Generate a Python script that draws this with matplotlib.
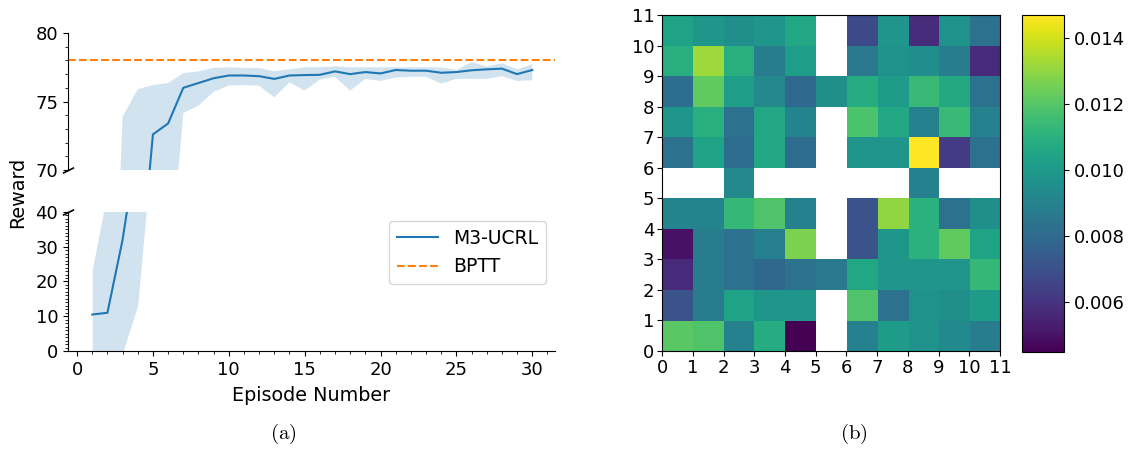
import numpy as np
import matplotlib
matplotlib.use('Agg')
import matplotlib.pyplot as plt
from matplotlib.ticker import MultipleLocator

# reward curve (mean and band) per episode
episodes = list(range(1, 31))
reward_mean = [10.5, 11.0, 32.0, 60.5, 72.6, 73.4, 76.0, 76.35, 76.7, 76.9,
               76.9, 76.85, 76.65, 76.9, 76.93, 76.95, 77.2, 77.0, 77.15, 77.05,
               77.3, 77.25, 77.25, 77.1, 77.15, 77.28, 77.35, 77.4, 77.0, 77.3]
reward_low = [-3.0, -5.0, -0.5, 13.2, 62.0, 61.2, 74.15, 74.7, 75.7, 76.17,
              76.2, 76.15, 75.3, 76.4, 75.8, 76.6, 76.8, 75.8, 76.65, 76.5,
              76.75, 76.8, 76.8, 76.3, 76.65, 76.65, 76.65, 76.85, 76.5, 76.55]
reward_high = [23.4, 45.8, 73.9, 75.9, 76.2, 76.35, 77.07, 77.2, 77.45, 77.5,
               77.45, 77.45, 77.2, 77.35, 77.5, 77.5, 77.56, 77.5, 77.5, 77.5,
               77.5, 77.5, 77.5, 77.5, 77.3, 77.88, 77.55, 77.8, 77.35, 77.73]
bptt_reward = 78.05

# heatmap values, row 0 is the bottom row (nan = empty cell)
nan = np.nan
row0 = [0.0121, 0.0119, 0.0090, 0.0108, 0.0045, nan, 0.0090, 0.0101, 0.0097, 0.0094, 0.0088]
row1 = [0.0071, 0.0088, 0.0104, 0.0099, 0.0099, nan, 0.0119, 0.0083, 0.0097, 0.0096, 0.0101]
row2 = [0.0057, 0.0088, 0.0083, 0.0079, 0.0083, 0.0086, 0.0106, 0.0099, 0.0099, 0.0098, 0.0113]
row3 = [0.0050, 0.0088, 0.0083, 0.0089, 0.0127, nan, 0.0071, 0.0099, 0.0110, 0.0122, 0.0104]
row4 = [0.0091, 0.0091, 0.0113, 0.0119, 0.0090, nan, 0.0071, 0.0130, 0.0110, 0.0083, 0.0096]
row5 = [nan, nan, 0.0093, nan, nan, nan, nan, nan, 0.0090, nan, nan]
row6 = [0.0083, 0.0104, 0.0081, 0.0106, 0.0081, nan, 0.0098, 0.0098, 0.0147, 0.0063, 0.0083]
row7 = [0.0099, 0.0109, 0.0083, 0.0106, 0.0091, nan, 0.0118, 0.0106, 0.0090, 0.0114, 0.0090]
row8 = [0.0082, 0.0122, 0.0102, 0.0093, 0.0080, 0.0096, 0.0108, 0.0101, 0.0114, 0.0107, 0.0083]
row9 = [0.0109, 0.0132, 0.0109, 0.0088, 0.0102, nan, 0.0086, 0.0097, 0.0095, 0.0088, 0.0057]
row10 = [0.0104, 0.0099, 0.0096, 0.0098, 0.0106, nan, 0.0068, 0.0098, 0.0058, 0.0097, 0.0083]
cbar_ticks = [0.006, 0.008, 0.010, 0.012, 0.014]

fig = plt.figure(figsize=(11.29, 4.53), dpi=100)

### (a) reward with broken y-axis ###
ax_top = fig.add_axes([0.0602, 0.6247, 0.4314, 0.3024])
ax_bot = fig.add_axes([0.0602, 0.2252, 0.4314, 0.3068])

for ax in (ax_top, ax_bot):
    ax.fill_between(episodes, reward_low, reward_high, color='tab:blue', alpha=0.2, lw=0)
    ax.plot(episodes, reward_mean, color='tab:blue', lw=1.5, label='M3-UCRL')
    ax.axhline(bptt_reward, color='tab:orange', ls='--', lw=1.5, label='BPTT')
    ax.set_xlim(-0.6, 31.5)
    ax.spines['top'].set_visible(False)
    ax.spines['right'].set_visible(False)
    ax.tick_params(labelsize=13)
    ax.tick_params(which='minor', length=2.5)

ax_top.set_ylim(70, 80)
ax_top.set_yticks([70, 75, 80])
ax_top.yaxis.set_minor_locator(MultipleLocator(1))
ax_top.spines['bottom'].set_visible(False)
ax_top.tick_params(axis='x', which='both', bottom=False, labelbottom=False)

ax_bot.set_ylim(0, 40)
ax_bot.set_yticks([0, 10, 20, 30, 40])
ax_bot.yaxis.set_minor_locator(MultipleLocator(1))
ax_bot.set_xticks([0, 5, 10, 15, 20, 25, 30])
ax_bot.xaxis.set_minor_locator(MultipleLocator(1))
ax_bot.set_xlabel('Episode Number', fontsize=13.8, labelpad=5)
ax_bot.legend(loc='upper right', fontsize=13.5, handlelength=2.2)

# break marks
brk = dict(marker=[(-1, -0.5), (1, 0.5)], markersize=8, linestyle='none',
           color='k', mec='k', mew=1.2, clip_on=False)
ax_top.plot([0], [0], transform=ax_top.transAxes, **brk)
ax_bot.plot([0], [1], transform=ax_bot.transAxes, **brk)

fig.text(0.016, 0.575, 'Reward', rotation=90, ha='center', va='center', fontsize=13.8)

### (b) heatmap ###
grid = np.array([row0, row1, row2, row3, row4, row5, row6, row7, row8, row9, row10])
ax_hm = fig.add_axes([0.5864, 0.2252, 0.2994, 0.7417])
im = ax_hm.imshow(grid, cmap='viridis', origin='lower', extent=(0, 11, 0, 11),
                  aspect='auto', interpolation='nearest')
ax_hm.set_xticks(range(12))
ax_hm.set_yticks(range(12))
ax_hm.tick_params(labelsize=13, pad=2)

cax = fig.add_axes([0.905, 0.223, 0.0375, 0.744])
cb = fig.colorbar(im, cax=cax, ticks=cbar_ticks)
cb.ax.tick_params(labelsize=13)
cb.ax.set_yticklabels(['%.3f' % t for t in cbar_ticks])

# subfigure captions
fig.text(0.251, 0.032, r'$\mathrm{(a)}$', math_fontfamily='cm', fontsize=15, ha='center')
fig.text(0.756, 0.032, r'$\mathrm{(b)}$', math_fontfamily='cm', fontsize=15, ha='center')

fig.savefig('out.png', dpi=100)
